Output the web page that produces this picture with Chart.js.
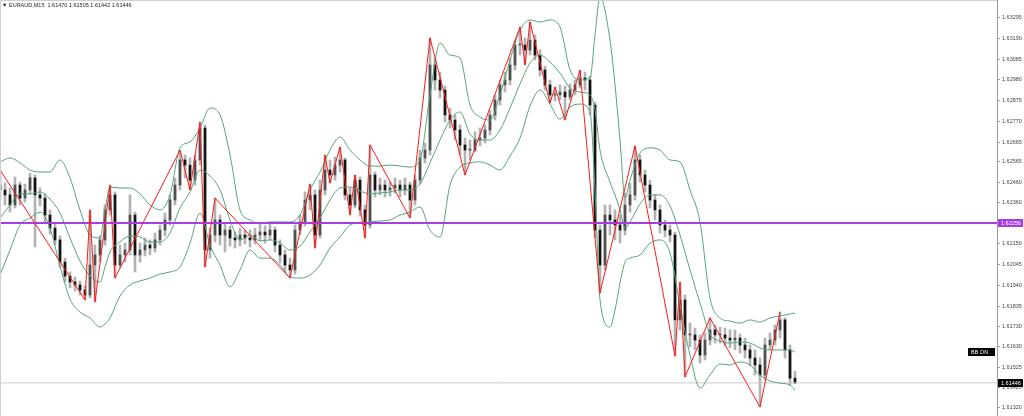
<!DOCTYPE html>
<html>
<head>
<meta charset="utf-8">
<script src="https://cdn.jsdelivr.net/npm/chart.js@4.4.1/dist/chart.umd.min.js"></script>
<style>
    html, body { margin: 0; padding: 0; background: #fff; }
    #wrap { position: relative; width: 1024px; height: 416px; }
</style>
</head>
<body>
<div id="wrap"><canvas id="chart"></canvas></div>
<script>
/* global Chart */

// EURAUD M15 candles (one entry per bar)
const symbol = 'EURAUD,M15';

const opens = [
    1.62448, 1.62423, 1.62398, 1.62347, 1.62448, 1.62382, 1.62423, 1.62484, 1.62398, 1.62382,
    1.62296, 1.62230, 1.62170, 1.62058, 1.61987, 1.61957, 1.61942, 1.61916, 1.61891, 1.62043,
    1.62094, 1.62170, 1.62322, 1.62398, 1.62043, 1.62094, 1.62119, 1.62296, 1.62094, 1.62119,
    1.62144, 1.62129, 1.62170, 1.62220, 1.62271, 1.62372, 1.62448, 1.62575, 1.62549, 1.62473,
    1.62575, 1.62737, 1.62119, 1.62195, 1.62271, 1.62195, 1.62220, 1.62180, 1.62170, 1.62195,
    1.62180, 1.62170, 1.62195, 1.62210, 1.62195, 1.62220, 1.62144, 1.62094, 1.62043, 1.62018,
    1.62220, 1.62261, 1.62372, 1.62398, 1.62195, 1.62423, 1.62524, 1.62499, 1.62549, 1.62575,
    1.62398, 1.62347, 1.62473, 1.62322, 1.62246, 1.62499, 1.62423, 1.62448, 1.62423, 1.62433,
    1.62448, 1.62423, 1.62448, 1.62372, 1.62473, 1.62585, 1.62625, 1.63056, 1.62980, 1.62929,
    1.62803, 1.62777, 1.62727, 1.62651, 1.62625, 1.62625, 1.62676, 1.62686, 1.62727, 1.62803,
    1.62879, 1.62955, 1.62980, 1.63056, 1.63157, 1.63157, 1.63132, 1.63182, 1.63106, 1.63031,
    1.62955, 1.62904, 1.62904, 1.62919, 1.62894, 1.62929, 1.62955, 1.62990, 1.62980, 1.62853,
    1.62220, 1.62043, 1.62296, 1.62271, 1.62246, 1.62220, 1.62347, 1.62398, 1.62575, 1.62499,
    1.62448, 1.62372, 1.62322, 1.62246, 1.62220, 1.62195, 1.61765, 1.61866, 1.61689, 1.61689,
    1.61663, 1.61587, 1.61663, 1.61714, 1.61689, 1.61689, 1.61673, 1.61663, 1.61673, 1.61638,
    1.61613, 1.61572, 1.61537, 1.61486, 1.61638, 1.61663, 1.61714, 1.61765, 1.61613, 1.61470
];
const highs = [
    1.62524, 1.62458, 1.62433, 1.62489, 1.62463, 1.62453, 1.62509, 1.62499, 1.62433, 1.62403,
    1.62322, 1.62251, 1.62190, 1.62078, 1.62008, 1.61982, 1.61962, 1.61937, 1.62322, 1.62144,
    1.62190, 1.62347, 1.62448, 1.62413, 1.62144, 1.62154, 1.62398, 1.62311, 1.62154, 1.62180,
    1.62170, 1.62205, 1.62246, 1.62306, 1.62398, 1.62484, 1.62625, 1.62600, 1.62585, 1.62600,
    1.62767, 1.62752, 1.62230, 1.62382, 1.62296, 1.62251, 1.62241, 1.62210, 1.62230, 1.62220,
    1.62220, 1.62230, 1.62246, 1.62241, 1.62261, 1.62235, 1.62170, 1.62119, 1.62078, 1.62246,
    1.62296, 1.62413, 1.62453, 1.62423, 1.62473, 1.62600, 1.62575, 1.62590, 1.62641, 1.62585,
    1.62433, 1.62499, 1.62489, 1.62347, 1.62651, 1.62514, 1.62484, 1.62473, 1.62463, 1.62484,
    1.62473, 1.62484, 1.62463, 1.62499, 1.62625, 1.62661, 1.63193, 1.63091, 1.63020, 1.62949,
    1.62838, 1.62803, 1.62752, 1.62686, 1.62676, 1.62717, 1.62737, 1.62752, 1.62828, 1.62904,
    1.62980, 1.63020, 1.63091, 1.63182, 1.63248, 1.63193, 1.63274, 1.63208, 1.63132, 1.63051,
    1.62980, 1.62944, 1.62955, 1.62949, 1.62960, 1.62980, 1.63030, 1.63020, 1.63000, 1.62868,
    1.62246, 1.62347, 1.62347, 1.62322, 1.62296, 1.62408, 1.62458, 1.62646, 1.62600, 1.62524,
    1.62473, 1.62398, 1.62347, 1.62271, 1.62246, 1.62210, 1.61957, 1.61891, 1.61749, 1.61724,
    1.61689, 1.61699, 1.61775, 1.61739, 1.61729, 1.61724, 1.61714, 1.61714, 1.61694, 1.61673,
    1.61638, 1.61613, 1.61572, 1.61673, 1.61699, 1.61739, 1.61805, 1.61775, 1.61638, 1.61505
];
const lows = [
    1.62372, 1.62347, 1.62311, 1.62332, 1.62347, 1.62362, 1.62403, 1.62134, 1.62342, 1.62261,
    1.62200, 1.62144, 1.62028, 1.61957, 1.61927, 1.61911, 1.61891, 1.61866, 1.61876, 1.61856,
    1.62058, 1.62144, 1.62296, 1.61977, 1.62028, 1.62058, 1.62094, 1.62008, 1.62058, 1.62089,
    1.62094, 1.62109, 1.62144, 1.62190, 1.62246, 1.62347, 1.62423, 1.62484, 1.62423, 1.62448,
    1.62549, 1.62033, 1.62078, 1.62160, 1.62144, 1.62109, 1.62139, 1.62129, 1.62139, 1.62149,
    1.62134, 1.62149, 1.62165, 1.62154, 1.62170, 1.62109, 1.62053, 1.62008, 1.61977, 1.61997,
    1.62195, 1.62241, 1.62322, 1.62129, 1.62180, 1.62398, 1.62458, 1.62473, 1.62514, 1.62372,
    1.62296, 1.62332, 1.62291, 1.62180, 1.62230, 1.62387, 1.62398, 1.62387, 1.62392, 1.62408,
    1.62387, 1.62398, 1.62281, 1.62347, 1.62453, 1.62560, 1.62600, 1.62929, 1.62889, 1.62767,
    1.62737, 1.62676, 1.62600, 1.62499, 1.62575, 1.62615, 1.62646, 1.62661, 1.62701, 1.62777,
    1.62853, 1.62919, 1.62955, 1.63031, 1.63106, 1.63056, 1.63106, 1.63081, 1.63000, 1.62929,
    1.62863, 1.62874, 1.62879, 1.62777, 1.62879, 1.62904, 1.62939, 1.62929, 1.62803, 1.62180,
    1.61901, 1.62018, 1.62195, 1.62170, 1.62154, 1.62195, 1.62311, 1.62372, 1.62463, 1.62413,
    1.62332, 1.62271, 1.62205, 1.62185, 1.62160, 1.61582, 1.61714, 1.61476, 1.61628, 1.61613,
    1.61547, 1.61562, 1.61638, 1.61648, 1.61648, 1.61633, 1.61623, 1.61613, 1.61597, 1.61572,
    1.61532, 1.61486, 1.61324, 1.61461, 1.61613, 1.61638, 1.61673, 1.61572, 1.61435, 1.61442
];
const closes = [
    1.62423, 1.62398, 1.62347, 1.62448, 1.62382, 1.62423, 1.62484, 1.62398, 1.62382, 1.62296,
    1.62230, 1.62170, 1.62058, 1.61987, 1.61957, 1.61942, 1.61916, 1.61891, 1.62043, 1.62094,
    1.62170, 1.62322, 1.62398, 1.62043, 1.62094, 1.62119, 1.62296, 1.62094, 1.62119, 1.62144,
    1.62129, 1.62170, 1.62220, 1.62271, 1.62372, 1.62448, 1.62575, 1.62549, 1.62473, 1.62575,
    1.62737, 1.62119, 1.62195, 1.62271, 1.62195, 1.62220, 1.62180, 1.62170, 1.62195, 1.62180,
    1.62170, 1.62195, 1.62210, 1.62195, 1.62220, 1.62144, 1.62094, 1.62043, 1.62018, 1.62220,
    1.62261, 1.62372, 1.62398, 1.62195, 1.62423, 1.62524, 1.62499, 1.62549, 1.62575, 1.62398,
    1.62347, 1.62473, 1.62322, 1.62246, 1.62499, 1.62423, 1.62448, 1.62423, 1.62433, 1.62448,
    1.62423, 1.62448, 1.62372, 1.62473, 1.62585, 1.62625, 1.63056, 1.62980, 1.62929, 1.62803,
    1.62777, 1.62727, 1.62651, 1.62625, 1.62625, 1.62676, 1.62686, 1.62727, 1.62803, 1.62879,
    1.62955, 1.62980, 1.63056, 1.63157, 1.63157, 1.63132, 1.63182, 1.63106, 1.63031, 1.62955,
    1.62904, 1.62904, 1.62919, 1.62894, 1.62929, 1.62955, 1.62990, 1.62980, 1.62853, 1.62220,
    1.62043, 1.62296, 1.62271, 1.62246, 1.62220, 1.62347, 1.62398, 1.62575, 1.62499, 1.62448,
    1.62372, 1.62322, 1.62246, 1.62220, 1.62195, 1.61765, 1.61866, 1.61689, 1.61689, 1.61663,
    1.61587, 1.61663, 1.61714, 1.61689, 1.61689, 1.61673, 1.61663, 1.61673, 1.61638, 1.61613,
    1.61572, 1.61537, 1.61486, 1.61638, 1.61663, 1.61714, 1.61765, 1.61613, 1.61470, 1.61446
];

// Bollinger bands, sampled at these bar positions
const bbIdx = [
    0, 2, 4, 6, 8, 10, 12, 14, 16, 18, 20, 21, 22, 24, 26, 28, 30, 32, 34, 36,
    38, 40, 42, 44, 46, 48, 50, 52, 54, 56, 58, 60, 62, 64, 66, 68, 70, 72, 74, 76,
    78, 80, 82, 84, 86, 88, 90, 92, 94, 96, 98, 100, 102, 104, 106, 108, 110, 112, 114, 116,
    118, 119, 120, 122, 123, 124, 125, 126, 128, 130, 132, 134, 136, 138, 140, 142, 144, 146, 148, 150,
    152, 154, 156, 158, 159
];
const bbUpper = [
    1.62565, 1.62585, 1.62560, 1.62524, 1.62514, 1.62514, 1.62575, 1.62484, 1.62322, 1.62195,
    1.62180, 1.62322, 1.62438, 1.62433, 1.62433, 1.62403, 1.62347, 1.62322, 1.62398, 1.62636,
    1.62666, 1.62737, 1.62838, 1.62803, 1.62600, 1.62322, 1.62271, 1.62251, 1.62261, 1.62261,
    1.62261, 1.62296, 1.62423, 1.62514, 1.62625, 1.62691, 1.62625, 1.62575, 1.62544, 1.62544,
    1.62549, 1.62544, 1.62539, 1.62575, 1.62904, 1.63167, 1.63106, 1.63091, 1.62853, 1.62793,
    1.62777, 1.62904, 1.63081, 1.63233, 1.63284, 1.63274, 1.63284, 1.63248, 1.63031, 1.62980,
    1.62990, 1.63208, 1.63400, 1.63182, 1.62955, 1.62676, 1.62382, 1.62473, 1.62610, 1.62636,
    1.62625, 1.62575, 1.62565, 1.62423, 1.62261, 1.61876, 1.61775, 1.61759, 1.61749, 1.61765,
    1.61754, 1.61775, 1.61785, 1.61795, 1.61800
];
const bbMiddle = [
    1.62281, 1.62347, 1.62403, 1.62403, 1.62413, 1.62377, 1.62306, 1.62180, 1.62063, 1.61987,
    1.61957, 1.62033, 1.62109, 1.62160, 1.62190, 1.62185, 1.62160, 1.62160, 1.62205, 1.62332,
    1.62413, 1.62524, 1.62494, 1.62423, 1.62271, 1.62170, 1.62195, 1.62165, 1.62170, 1.62154,
    1.62119, 1.62139, 1.62210, 1.62281, 1.62372, 1.62433, 1.62438, 1.62418, 1.62403, 1.62408,
    1.62413, 1.62423, 1.62423, 1.62453, 1.62560, 1.62676, 1.62777, 1.62818, 1.62706, 1.62676,
    1.62676, 1.62727, 1.62838, 1.62960, 1.63066, 1.63106, 1.63071, 1.63015, 1.62939, 1.62919,
    1.62904, 1.62828, 1.62625, 1.62463, 1.62398, 1.62322, 1.62230, 1.62261, 1.62352, 1.62398,
    1.62398, 1.62342, 1.62195, 1.62018, 1.61851, 1.61694, 1.61658, 1.61648, 1.61653, 1.61648,
    1.61623, 1.61613, 1.61613, 1.61613, 1.61602
];
const bbLower = [
    1.61992, 1.62119, 1.62246, 1.62281, 1.62311, 1.62230, 1.62038, 1.61871, 1.61805, 1.61775,
    1.61729, 1.61744, 1.61775, 1.61886, 1.61942, 1.61962, 1.61977, 1.61997, 1.62008, 1.62033,
    1.62154, 1.62306, 1.62144, 1.62043, 1.61932, 1.62018, 1.62119, 1.62078, 1.62078, 1.62043,
    1.61982, 1.61977, 1.61992, 1.62043, 1.62129, 1.62185, 1.62246, 1.62256, 1.62261, 1.62266,
    1.62271, 1.62296, 1.62311, 1.62337, 1.62220, 1.62185, 1.62448, 1.62539, 1.62560, 1.62565,
    1.62549, 1.62524, 1.62595, 1.62686, 1.62848, 1.62929, 1.62858, 1.62782, 1.62843, 1.62858,
    1.62818, 1.62423, 1.61866, 1.61729, 1.61815, 1.61952, 1.62058, 1.62078, 1.62094, 1.62154,
    1.62170, 1.62104, 1.61840, 1.61587, 1.61420, 1.61486, 1.61542, 1.61537, 1.61552, 1.61537,
    1.61486, 1.61456, 1.61445, 1.61435, 1.61410
];

// ZigZag turning points (bar position, price)
const zzIdx = [
    0, 17, 18, 19, 22, 23, 36, 38, 40, 41, 43, 58, 62, 63, 65, 66, 68, 70, 71, 73,
    74, 82, 86, 93, 104, 105, 106, 110, 111, 113, 116, 120, 127, 135, 136, 137, 142, 152, 156
];
const zzPrice = [
    1.62524, 1.61866, 1.62322, 1.61856, 1.62448, 1.61977, 1.62625, 1.62423, 1.62767, 1.62033,
    1.62382, 1.61977, 1.62453, 1.62129, 1.62600, 1.62458, 1.62641, 1.62296, 1.62499, 1.62180,
    1.62651, 1.62281, 1.63193, 1.62499, 1.63248, 1.63056, 1.63274, 1.62863, 1.62944, 1.62777,
    1.63030, 1.61901, 1.62646, 1.61582, 1.61957, 1.61476, 1.61775, 1.61324, 1.61805
];

const levelLine = 1.62256;
const yTicks = [
    1.63295, 1.63190, 1.63085, 1.62980, 1.62875, 1.62770, 1.62665, 1.62565, 1.62460, 1.62360,
    1.62255, 1.62150, 1.62045, 1.61940, 1.61835, 1.61730, 1.61630, 1.61525, 1.61425, 1.61320
];
const indicatorLabel = 'BB ON';

const X_MAX = 199.4;
const FONT = '"Liberation Sans", "DejaVu Sans", Arial, sans-serif';
const BB_COLOR = '#55a478';
const LEVEL_COLOR = '#a63de6';
const last = closes.length - 1;

function flat(value) {
    return [{ x: 0, y: value }, { x: X_MAX, y: value }];
}

const overlay = {
    id: 'overlay',
    afterDraw(chart) {
        const { ctx, chartArea, scales } = chart;
        const y = scales.y;
        ctx.save();

        // chart frame
        ctx.strokeStyle = '#cfcfcf';
        ctx.lineWidth = 1;
        ctx.beginPath();
        ctx.moveTo(0, 0.5);
        ctx.lineTo(chartArea.right, 0.5);
        ctx.moveTo(0.5, 0);
        ctx.lineTo(0.5, chartArea.bottom);
        ctx.stroke();

        ctx.font = '5.5px ' + FONT;
        ctx.textBaseline = 'middle';

        // header: symbol and last bar OHLC
        const ohlc = [opens[last], highs[last], lows[last], closes[last]].map(v => v.toFixed(5)).join(' ');
        ctx.fillStyle = '#222';
        ctx.fillText('\u25BC', 2, 5.5);
        ctx.fillText(symbol + '  ' + ohlc, 9, 5.5);

        // price tags on the axis
        const tag = (value, color) => {
            const py = Math.round(y.getPixelForValue(value));
            ctx.fillStyle = color;
            ctx.fillRect(chartArea.right + 1, py - 4, 25, 8);
            ctx.fillStyle = '#fff';
            ctx.fillText(value.toFixed(5), chartArea.right + 4, py + 0.5);
        };
        tag(levelLine, LEVEL_COLOR);
        tag(closes[last], '#000');

        // indicator status label
        ctx.fillStyle = '#000';
        ctx.fillRect(chartArea.right - 29, 348, 27, 8);
        ctx.fillStyle = '#fff';
        ctx.fillText(indicatorLabel, chartArea.right - 26, 352.5);

        ctx.restore();
    }
};

const ctx = document.getElementById('chart').getContext('2d');

const chart = new Chart(ctx, {
    type: 'bar',
    data: {
        datasets: [
            {
                type: 'bar',
                data: lows.map((l, i) => ({ x: i, y: [l, highs[i]] })),
                backgroundColor: '#b2b2b2',
                barThickness: 2,
                grouped: false,
                order: 6,
            },
            {
                type: 'bar',
                data: opens.map((o, i) => ({ x: i, y: [o, closes[i]] })),
                backgroundColor: (c) => {
                    const i = c.dataIndex;
                    return closes[i] < opens[i] ? '#141414' : '#505050';
                },
                barThickness: 2,
                minBarLength: 1,
                grouped: false,
                order: 5,
            },
            {
                type: 'line',
                data: bbIdx.map((x, i) => ({ x: x, y: bbUpper[i] })),
                borderColor: BB_COLOR,
                borderWidth: 1,
                pointRadius: 0,
                cubicInterpolationMode: 'monotone',
                order: 3,
            },
            {
                type: 'line',
                data: bbIdx.map((x, i) => ({ x: x, y: bbMiddle[i] })),
                borderColor: BB_COLOR,
                borderWidth: 1,
                pointRadius: 0,
                cubicInterpolationMode: 'monotone',
                order: 3,
            },
            {
                type: 'line',
                data: bbIdx.map((x, i) => ({ x: x, y: bbLower[i] })),
                borderColor: BB_COLOR,
                borderWidth: 1,
                pointRadius: 0,
                cubicInterpolationMode: 'monotone',
                order: 3,
            },
            {
                type: 'line',
                data: flat(closes[last]),
                borderColor: '#cccccc',
                borderWidth: 1,
                pointRadius: 0,
                order: 4,
            },
            {
                type: 'line',
                data: flat(levelLine),
                borderColor: LEVEL_COLOR,
                borderWidth: 2,
                pointRadius: 0,
                order: 2,
            },
            {
                type: 'line',
                data: zzIdx.map((x, i) => ({ x: x, y: zzPrice[i] })),
                borderColor: '#ff1a1a',
                borderWidth: 1,
                pointRadius: 0,
                tension: 0,
                order: 1,
            },
        ]
    },
    options: {
        responsive: true,
        maintainAspectRatio: false,
        animation: false,
        devicePixelRatio: 1,
        layout: { padding: 0 },
        plugins: {
            legend: { display: false },
            tooltip: { enabled: false },
        },
        scales: {
            x: {
                type: 'linear',
                min: 0,
                max: X_MAX,
                offset: false,
                display: false,
            },
            y: {
                position: 'right',
                min: 1.612784,
                max: 1.63385,
                afterBuildTicks: (axis) => {
                    axis.ticks = yTicks.map(v => ({ value: v }));
                },
                afterFit: (axis) => {
                    axis.width = 27;
                    axis.paddingTop = 0;
                    axis.paddingBottom = 0;
                },
                border: { display: true, color: '#9a9a9a' },
                grid: {
                    drawOnChartArea: false,
                    drawTicks: true,
                    tickLength: 3,
                    color: '#9a9a9a',
                },
                ticks: {
                    autoSkip: false,
                    padding: 2,
                    color: '#444',
                    font: { size: 5.5, family: FONT },
                    callback: (value) => Number(value).toFixed(5),
                },
            },
        },
    },
    plugins: [overlay],
});
</script>
</body>
</html>
